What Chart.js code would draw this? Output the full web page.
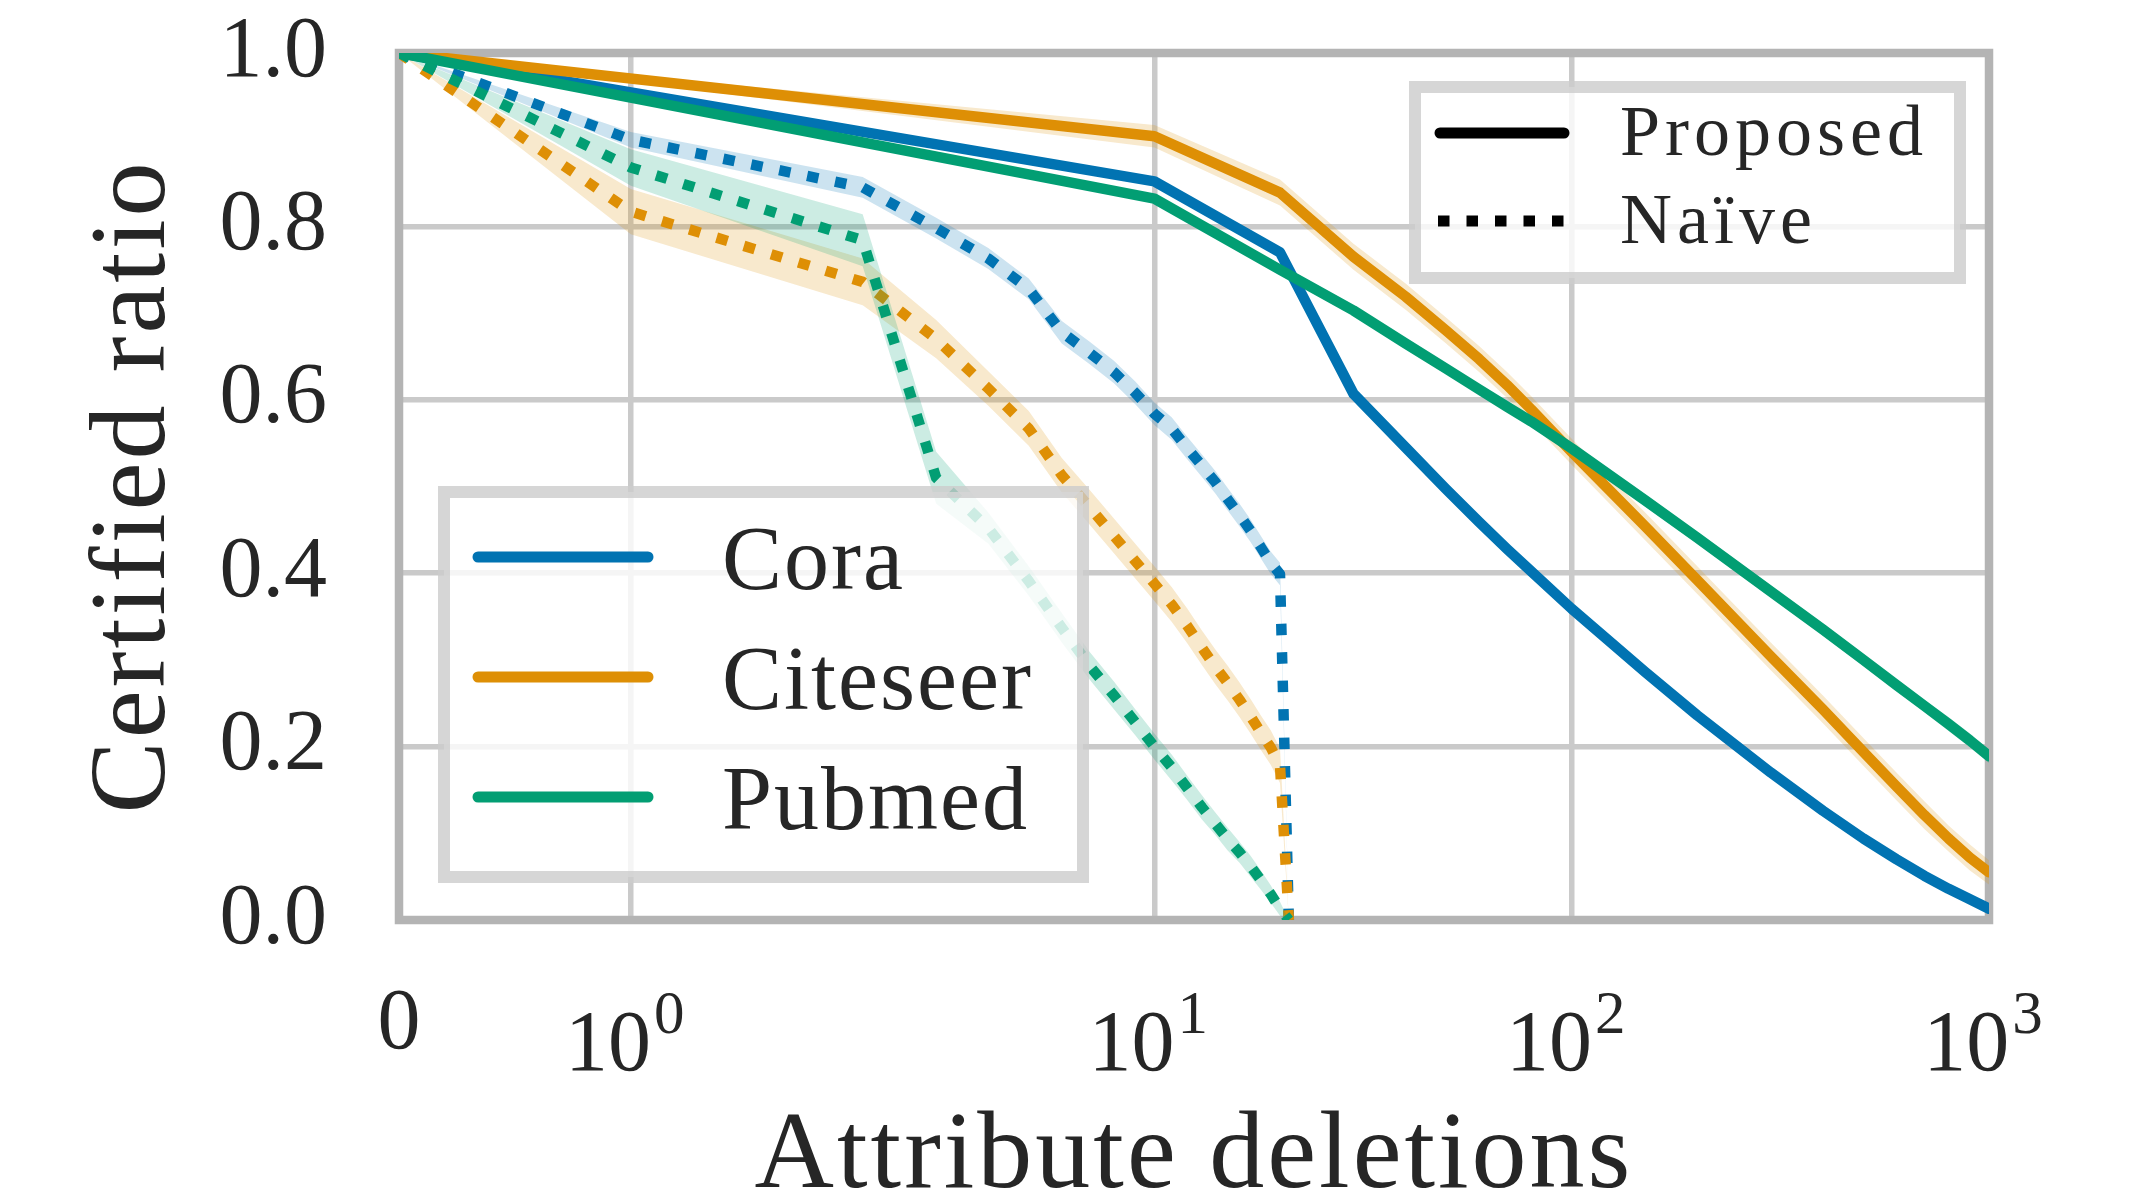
<!DOCTYPE html>
<html>
<head>
<meta charset="utf-8">
<script src="https://cdn.jsdelivr.net/npm/chart.js@4.4.1/dist/chart.umd.min.js"></script>
<style>
html,body{margin:0;padding:0;background:#ffffff;overflow:hidden}
canvas{display:block}
</style>
</head>
<body>
<canvas id="chart" width="2141" height="1202"></canvas>
<script>
// ---------------- data ----------------
const datasetNames = ['Cora', 'Citeseer', 'Pubmed'];
const methodNames = ['Proposed', 'Naïve'];

const xTickValues = [0, 1, 10, 100, 1000];
const xTickLabels = ['0', '10^0', '10^1', '10^2', '10^3'];
const yTickValues = [0, 0.2, 0.4, 0.6, 0.8, 1.0];
const xAxisTitle = 'Attribute deletions';
const yAxisTitle = 'Certified ratio';

// Proposed (solid)
const proposedX = [0, 10, 20, 30, 40, 50, 60, 70, 80, 100, 150, 200, 300, 400, 500, 600, 700, 800, 900, 1000];
const proposedCora = [1.000, 0.852, 0.770, 0.607, 0.545, 0.497, 0.459, 0.428, 0.402, 0.359, 0.286, 0.236, 0.170, 0.126, 0.094, 0.070, 0.051, 0.036, 0.024, 0.013];
const proposedCiteseer = [1.000, 0.904, 0.839, 0.765, 0.719, 0.680, 0.647, 0.617, 0.589, 0.540, 0.454, 0.392, 0.304, 0.243, 0.194, 0.154, 0.121, 0.094, 0.072, 0.055];
const proposedPubmed = [1.000, 0.832, 0.750, 0.703, 0.665, 0.636, 0.612, 0.592, 0.575, 0.544, 0.484, 0.441, 0.379, 0.335, 0.300, 0.271, 0.247, 0.226, 0.207, 0.189];
const proposedCoraErr = [0, 0.004, 0.005, 0.005, 0.005, 0.005, 0.005, 0.005, 0.005, 0.005, 0.005, 0.005, 0.005, 0.005, 0.004, 0.004, 0.004, 0.003, 0.003, 0.003];
const proposedCiteseerErr = [0, 0.013, 0.015, 0.015, 0.015, 0.015, 0.015, 0.015, 0.015, 0.015, 0.016, 0.016, 0.016, 0.016, 0.016, 0.016, 0.016, 0.015, 0.015, 0.014];
const proposedPubmedErr = [0, 0.005, 0.006, 0.006, 0.006, 0.006, 0.006, 0.006, 0.006, 0.006, 0.007, 0.007, 0.007, 0.007, 0.007, 0.007, 0.007, 0.008, 0.008, 0.008];

// Naive (dotted)
const naiveX = [0, 1, 2, 3, 4, 5, 6, 7, 8, 9, 10, 11, 12, 13, 14, 15, 16, 17, 18, 19, 20, 21];
const naiveCora = [1.000, 0.900, 0.845, 0.798, 0.763, 0.728, 0.678, 0.654, 0.632, 0.608, 0.584, 0.567, 0.544, 0.524, 0.505, 0.485, 0.467, 0.449, 0.430, 0.412, 0.399, 0.000];
const naiveCiteseer = [1.000, 0.817, 0.736, 0.670, 0.613, 0.567, 0.513, 0.476, 0.443, 0.414, 0.388, 0.364, 0.339, 0.314, 0.292, 0.273, 0.254, 0.235, 0.216, 0.199, 0.178, 0.000];
const naivePubmed = [1.000, 0.868, 0.784, 0.510, 0.452, 0.391, 0.337, 0.293, 0.259, 0.228, 0.200, 0.176, 0.152, 0.130, 0.111, 0.093, 0.078, 0.062, 0.046, 0.030, 0.013, 0.000];
const naiveCoraErr = [0, 0.009, 0.012, 0.012, 0.012, 0.012, 0.013, 0.013, 0.013, 0.013, 0.013, 0.013, 0.013, 0.013, 0.013, 0.013, 0.013, 0.013, 0.013, 0.013, 0.013, 0];
const naiveCiteseerErr = [0, 0.026, 0.027, 0.022, 0.020, 0.020, 0.020, 0.020, 0.020, 0.020, 0.020, 0.020, 0.020, 0.020, 0.020, 0.020, 0.020, 0.020, 0.020, 0.020, 0.020, 0];
const naivePubmedErr = [0, 0.021, 0.030, 0.030, 0.018, 0.017, 0.017, 0.016, 0.016, 0.015, 0.015, 0.015, 0.014, 0.014, 0.013, 0.013, 0.012, 0.012, 0.011, 0.010, 0.008, 0];

// ---------------- style ----------------
const FONT = '"Liberation Serif", "Times New Roman", serif';
const TEXT = '#262626';
const palette = ['#0173b2', '#de8f05', '#029e73'];
const LINE_W = 10.5;
const DOT_DASH = [11.5, 17];
const TITLE_SPACING = '3px';

// symlog transform (matplotlib style, linthresh=2, linscale=1)
const LINTHRESH = 2, LINSCALE = 1, BASE = 10;
const LINADJ = LINSCALE / (1 - 1 / BASE);
function symlog(v) {
  const a = Math.abs(v), s = Math.sign(v);
  if (a <= LINTHRESH) return s * a * LINADJ;
  return s * LINTHRESH * (LINADJ + Math.log10(a / LINTHRESH));
}
function symexp(t) {
  const a = Math.abs(t), s = Math.sign(t);
  if (a <= LINTHRESH * LINADJ) return s * a / LINADJ;
  return s * LINTHRESH * Math.pow(BASE, a / LINTHRESH - LINADJ);
}

class SymlogScale extends Chart.LinearScale {
  static id = 'symlog';
  static defaults = Chart.LinearScale.defaults;
  buildTicks() { return xTickValues.map(v => ({ value: v })); }
  configure() {
    super.configure();
    this._tMin = symlog(this.min);
    this._tMax = symlog(this.max);
  }
  getPixelForValue(value) {
    return this.getPixelForDecimal((symlog(value) - this._tMin) / (this._tMax - this._tMin));
  }
  getValueForPixel(pixel) {
    return symexp(this._tMin + this.getDecimalForPixel(pixel) * (this._tMax - this._tMin));
  }
  drawTitle() {
    const c = this.ctx; const prev = c.letterSpacing;
    c.letterSpacing = TITLE_SPACING; super.drawTitle(); c.letterSpacing = prev;
  }
}
class SpacedLinearScale extends Chart.LinearScale {
  static id = 'spacedLinear';
  static defaults = Chart.LinearScale.defaults;
  drawTitle() {
    const c = this.ctx; const prev = c.letterSpacing;
    c.letterSpacing = TITLE_SPACING; super.drawTitle(); c.letterSpacing = prev;
  }
}
Chart.register(SymlogScale, SpacedLinearScale);

function withAlpha(hex, a) {
  const r = parseInt(hex.slice(1, 3), 16), g = parseInt(hex.slice(3, 5), 16), b = parseInt(hex.slice(5, 7), 16);
  return `rgba(${r},${g},${b},${a})`;
}

const datasets = [];
let seq = 0;
function addSeries(label, xs, ys, errs, color, dashed) {
  const base = 1000 - seq * 3; seq++;
  datasets.push({
    label: label + ' upper', data: xs.map((x, i) => ({ x, y: ys[i] + errs[i] })),
    borderWidth: 0, borderColor: 'rgba(0,0,0,0)', pointRadius: 0, fill: false, order: base
  });
  datasets.push({
    label: label + ' band', data: xs.map((x, i) => ({ x, y: ys[i] - errs[i] })),
    borderWidth: 0, borderColor: 'rgba(0,0,0,0)', pointRadius: 0, fill: '-1',
    backgroundColor: withAlpha(color, 0.2), order: base - 1
  });
  datasets.push({
    label, data: xs.map((x, i) => ({ x, y: ys[i] })),
    borderColor: color, borderWidth: LINE_W, borderDash: dashed ? DOT_DASH : [],
    borderCapStyle: dashed ? 'butt' : 'round', borderJoinStyle: 'round',
    pointRadius: 0, fill: false, tension: 0, order: base - 2
  });
}
const proposedSets = [proposedCora, proposedCiteseer, proposedPubmed];
const proposedErrs = [proposedCoraErr, proposedCiteseerErr, proposedPubmedErr];
const naiveSets = [naiveCora, naiveCiteseer, naivePubmed];
const naiveErrs = [naiveCoraErr, naiveCiteseerErr, naivePubmedErr];
datasetNames.forEach((name, k) => {
  addSeries(name + ' ' + methodNames[0], proposedX, proposedSets[k], proposedErrs[k], palette[k], false);
  addSeries(name + ' ' + methodNames[1], naiveX, naiveSets[k], naiveErrs[k], palette[k], true);
});

// ---------------- plugins ----------------
const spinePlugin = {
  id: 'spine',
  beforeDatasetsDraw(chart) {
    const { ctx, chartArea: a } = chart;
    ctx.save();
    ctx.strokeStyle = '#b4b4b4';
    ctx.lineWidth = 8.5;
    ctx.strokeRect(a.left, a.top, a.right - a.left, a.bottom - a.top);
    ctx.restore();
  }
};

function drawFrame(ctx, x, y, w, h) {
  ctx.fillStyle = 'rgba(255,255,255,0.8)';
  ctx.fillRect(x, y, w, h);
  ctx.strokeStyle = 'rgba(204,204,204,0.8)';
  ctx.lineWidth = 12;
  ctx.strokeRect(x, y, w, h);
}

const overlayPlugin = {
  id: 'overlay',
  afterDraw(chart) {
    const ctx = chart.ctx;
    const xs = chart.scales.x;
    ctx.save();
    // x tick labels with exponents
    ctx.fillStyle = TEXT;
    ctx.textBaseline = 'alphabetic';
    xTickValues.forEach((v, i) => {
      const px = xs.getPixelForValue(v);
      const parts = xTickLabels[i].split('^');
      if (parts.length === 1) {
        ctx.font = `86px ${FONT}`;
        ctx.textAlign = 'center';
        ctx.fillText(parts[0], px, 1048);
      } else {
        ctx.textAlign = 'left';
        ctx.font = `86px ${FONT}`;
        const wb = ctx.measureText(parts[0]).width;
        ctx.font = `61px ${FONT}`;
        const we = ctx.measureText(parts[1]).width;
        const start = px - (wb + 3 + we) / 2 - 6;
        ctx.font = `86px ${FONT}`;
        ctx.fillText(parts[0], start, 1070);
        ctx.font = `61px ${FONT}`;
        ctx.fillText(parts[1], start + wb + 3, 1033);
      }
    });

    // legend: datasets
    drawFrame(ctx, 444, 492, 639, 385);
    const rows1 = [557, 677, 797];
    datasetNames.forEach((name, k) => {
      ctx.strokeStyle = palette[k];
      ctx.lineWidth = 11;
      ctx.lineCap = 'round';
      ctx.setLineDash([]);
      ctx.beginPath();
      ctx.moveTo(478, rows1[k]);
      ctx.lineTo(648, rows1[k]);
      ctx.stroke();
      ctx.fillStyle = TEXT;
      ctx.font = `90px ${FONT}`;
      ctx.textAlign = 'left';
      ctx.letterSpacing = '2px';
      ctx.fillText(name, 722, rows1[k] + 32);
      ctx.letterSpacing = '0px';
    });

    // legend: methods
    drawFrame(ctx, 1415, 87, 545, 191);
    const rows2 = [133, 221];
    methodNames.forEach((name, k) => {
      ctx.strokeStyle = '#000000';
      ctx.lineWidth = 11;
      ctx.beginPath();
      if (k === 0) {
        ctx.setLineDash([]);
        ctx.lineCap = 'round';
        ctx.moveTo(1440, rows2[k]);
        ctx.lineTo(1564, rows2[k]);
      } else {
        ctx.setLineDash(DOT_DASH);
        ctx.lineCap = 'butt';
        ctx.moveTo(1438, rows2[k]);
        ctx.lineTo(1568, rows2[k]);
      }
      ctx.stroke();
      ctx.setLineDash([]);
      ctx.fillStyle = TEXT;
      ctx.font = `72px ${FONT}`;
      ctx.textAlign = 'left';
      ctx.letterSpacing = '5px';
      ctx.fillText(name, 1620, rows2[k] + 22);
      ctx.letterSpacing = '0px';
    });
    ctx.restore();
  }
};

// ---------------- chart ----------------
new Chart(document.getElementById('chart'), {
  type: 'line',
  data: { datasets },
  options: {
    responsive: false,
    devicePixelRatio: 1,
    animation: false,
    events: [],
    layout: { padding: { left: 0, right: 152, top: 53, bottom: 0 } },
    plugins: { legend: { display: false }, tooltip: { enabled: false } },
    elements: { line: { tension: 0 } },
    scales: {
      x: {
        type: 'symlog',
        position: 'bottom',
        min: 0, max: 1000,
        grid: { color: '#cacaca', lineWidth: 5.5, drawTicks: false },
        border: { display: false },
        ticks: { display: false },
        title: {
          display: true, text: xAxisTitle, color: TEXT,
          font: { family: FONT, size: 110, lineHeight: 0.8 },
          padding: { top: 0, bottom: 0 }
        },
        afterFit(s) { s.height = 282; s.paddingLeft = 0; s.paddingRight = 0; }
      },
      y: {
        type: 'spacedLinear',
        position: 'left',
        min: 0, max: 1,
        afterBuildTicks(s) { s.ticks = yTickValues.map(v => ({ value: v })); },
        grid: { color: '#cacaca', lineWidth: 5.5, drawTicks: false },
        border: { display: false },
        ticks: {
          color: TEXT, padding: 72,
          font: { family: FONT, size: 86 },
          callback: v => Number(v).toFixed(1)
        },
        title: {
          display: true, text: yAxisTitle, color: TEXT,
          font: { family: FONT, size: 108, lineHeight: 1 },
          padding: { top: 81.5, bottom: 0 }
        },
        afterFit(s) { s.width = 399; s.paddingTop = 0; s.paddingBottom = 0; }
      }
    }
  },
  plugins: [spinePlugin, overlayPlugin]
});
</script>
</body>
</html>
